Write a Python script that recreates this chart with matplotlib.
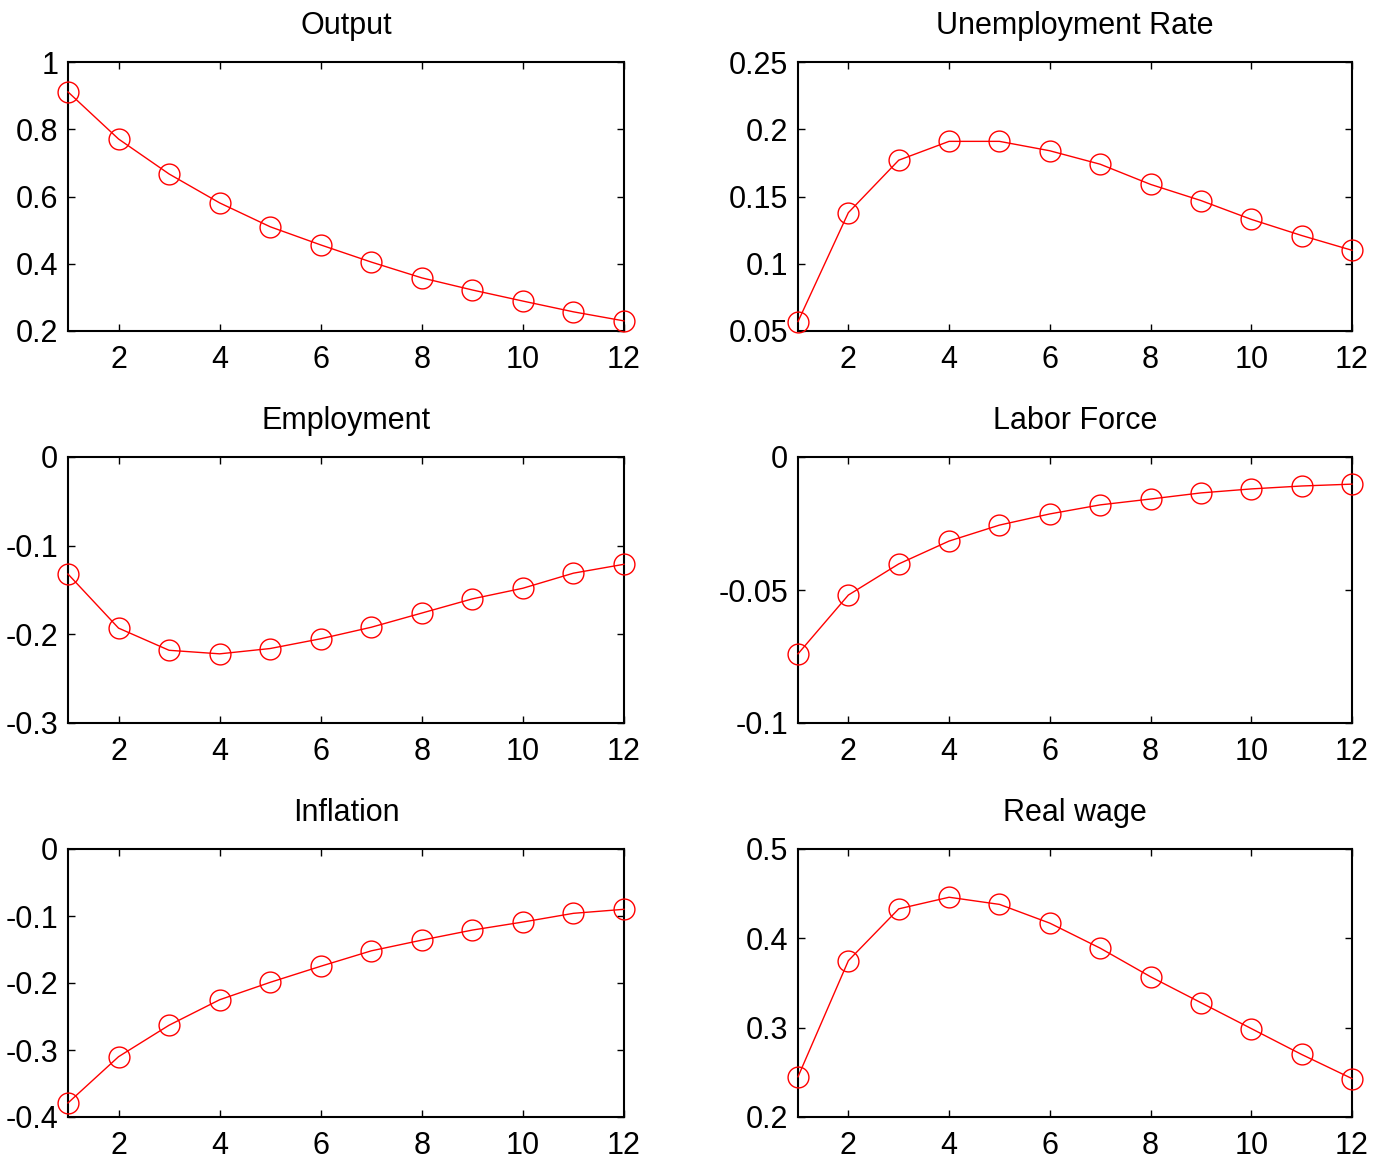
import matplotlib
matplotlib.use("Agg")
import matplotlib.pyplot as plt
import numpy as np

plt.rcParams['font.family'] = ['Liberation Sans', 'DejaVu Sans']

periods = list(range(1, 13))

output = [0.911, 0.771, 0.667, 0.581, 0.510, 0.456, 0.405, 0.358, 0.322, 0.289, 0.257, 0.230]
unemployment = [0.057, 0.138, 0.177, 0.191, 0.191, 0.184, 0.174, 0.159, 0.147, 0.133, 0.121, 0.110]
employment = [-0.132, -0.193, -0.218, -0.222, -0.216, -0.205, -0.192, -0.176, -0.160, -0.148, -0.131, -0.121]
labor_force = [-0.0740, -0.0519, -0.0402, -0.0316, -0.0256, -0.0214, -0.0180, -0.0158, -0.0135, -0.0120, -0.0109, -0.0102]
inflation = [-0.379, -0.310, -0.263, -0.225, -0.199, -0.175, -0.152, -0.136, -0.121, -0.109, -0.096, -0.090]
real_wage = [0.245, 0.375, 0.433, 0.446, 0.438, 0.417, 0.389, 0.357, 0.328, 0.299, 0.270, 0.243]

titles = ["Output", "Unemployment Rate", "Employment", "Labor Force", "Inflation", "Real wage"]
series = [output, unemployment, employment, labor_force, inflation, real_wage]
ylims = [(0.2, 1.0), (0.05, 0.25), (-0.3, 0.0), (-0.1, 0.0), (-0.4, 0.0), (0.2, 0.5)]
yticks = [
    [0.2, 0.4, 0.6, 0.8, 1.0],
    [0.05, 0.1, 0.15, 0.2, 0.25],
    [-0.3, -0.2, -0.1, 0.0],
    [-0.1, -0.05, 0.0],
    [-0.4, -0.3, -0.2, -0.1, 0.0],
    [0.2, 0.3, 0.4, 0.5],
]
yticklabels = [
    ["0.2", "0.4", "0.6", "0.8", "1"],
    ["0.05", "0.1", "0.15", "0.2", "0.25"],
    ["-0.3", "-0.2", "-0.1", "0"],
    ["-0.1", "-0.05", "0"],
    ["-0.4", "-0.3", "-0.2", "-0.1", "0"],
    ["0.2", "0.3", "0.4", "0.5"],
]
xticks = [2, 4, 6, 8, 10, 12]

W, H = 1383, 1167
fig = plt.figure(figsize=(W / 100, H / 100), dpi=100)

col_x = [(68, 624), (798, 1352)]
row_y = [(62, 331), (457, 723), (849, 1117)]

for i in range(6):
    r, c = divmod(i, 2)
    x0, x1 = col_x[c]
    y0, y1 = row_y[r]
    ax = fig.add_axes([x0 / W, 1 - y1 / H, (x1 - x0) / W, (y1 - y0) / H])
    ax.plot(periods, series[i], color='red', linewidth=1.0, marker='o',
            markersize=15, markerfacecolor='none', markeredgecolor='red',
            markeredgewidth=1.0, clip_on=False, zorder=3)
    ax.set_xlim(1, 12)
    ax.set_ylim(*ylims[i])
    ax.set_xticks(xticks)
    ax.set_xticklabels([str(t) for t in xticks])
    ax.set_yticks(yticks[i])
    ax.set_yticklabels(yticklabels[i])
    ax.tick_params(direction='in', length=5, width=1, top=True, right=True,
                   labelsize=22)
    ax.tick_params(axis='y', pad=7)
    ax.tick_params(axis='x', pad=10)
    for s in ax.spines.values():
        s.set_linewidth(1.5)
    ax.set_title(titles[i], fontsize=22, pad=20)

fig.savefig("out.png", dpi=100)
